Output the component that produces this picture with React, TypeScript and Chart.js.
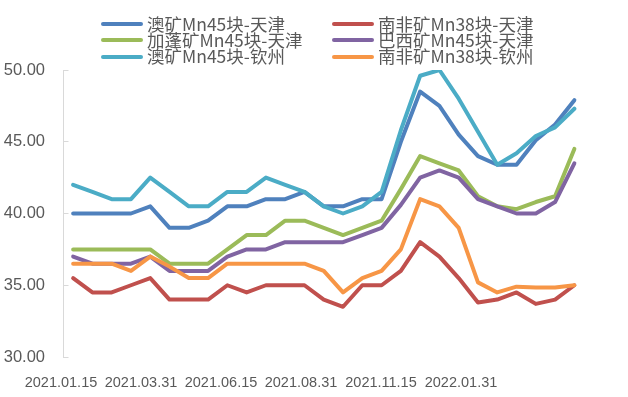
import React, { useEffect, useRef } from "react";
import { Chart, registerables } from "chart.js";

Chart.register(...registerables);

// Series names (legend order, row-wise)
const seriesNames = [
  "澳矿Mn45块-天津",
  "南非矿Mn38块-天津",
  "加蓬矿Mn45块-天津",
  "巴西矿Mn45块-天津",
  "澳矿Mn45块-钦州",
  "南非矿Mn38块-钦州",
];

const seriesColors = ["#4F81BD", "#C0504D", "#9BBB59", "#8064A2", "#4BACC6", "#F79646"];

// Values per observation (27 observations)
const ausTianjin = [40, 40, 40, 40, 40.5, 39, 39, 39.5, 40.5, 40.5, 41, 41, 41.5, 40.5, 40.5, 41, 41, 45, 48.5, 47.5, 45.5, 44, 43.4, 43.4, 45.1, 46.2, 47.9];
const saTianjin = [35.5, 34.5, 34.5, 35, 35.5, 34, 34, 34, 35, 34.5, 35, 35, 35, 34, 33.5, 35, 35, 36, 38, 37, 35.5, 33.8, 34, 34.5, 33.7, 34, 35];
const gabonTianjin = [37.5, 37.5, 37.5, 37.5, 37.5, 36.5, 36.5, 36.5, 37.5, 38.5, 38.5, 39.5, 39.5, 39, 38.5, 39, 39.5, 41.7, 44, 43.5, 43, 41.2, 40.5, 40.3, 40.8, 41.2, 44.5];
const brazilTianjin = [37, 36.5, 36.5, 36.5, 37, 36, 36, 36, 37, 37.5, 37.5, 38, 38, 38, 38, 38.5, 39, 40.6, 42.5, 43, 42.5, 41, 40.5, 40, 40, 40.8, 43.5];
const ausQinzhou = [42, 41.5, 41, 41, 42.5, 41.5, 40.5, 40.5, 41.5, 41.5, 42.5, 42, 41.5, 40.5, 40, 40.5, 41.5, 45.8, 49.6, 50, 48, 45.7, 43.4, 44.2, 45.4, 46, 47.3];
const saQinzhou = [36.5, 36.5, 36.5, 36, 37, 36.3, 35.5, 35.5, 36.5, 36.5, 36.5, 36.5, 36.5, 36, 34.5, 35.5, 36, 37.5, 41, 40.5, 39, 35.2, 34.5, 34.9, 34.85, 34.85, 35];

const seriesValues = [ausTianjin, saTianjin, gabonTianjin, brazilTianjin, ausQinzhou, saQinzhou];

// X axis tick labels and where they sit along the observation index
const xTickLabels = ["2021.01.15", "2021.03.31", "2021.06.15", "2021.08.31", "2021.11.15", "2022.01.31"];
const xTickIndex = [-0.63, 3.52, 7.67, 11.82, 15.97, 20.12];

const yMin = 30;
const yMax = 50;
const yStep = 5;

export default function App() {
  const canvasRef = useRef<HTMLCanvasElement | null>(null);

  useEffect(() => {
    const canvas = canvasRef.current;
    if (!canvas) return;
    const n = seriesValues[0].length;
    const chart = new Chart(canvas, {
      type: "line",
      data: {
        datasets: seriesValues.map((vals, si) => ({
          label: seriesNames[si],
          data: vals.map((v, i) => ({ x: i, y: v })),
          borderColor: seriesColors[si],
          backgroundColor: seriesColors[si],
          borderWidth: 4,
          pointRadius: 0,
          tension: 0,
          borderJoinStyle: "round" as const,
          borderCapStyle: "round" as const,
          order: seriesValues.length - si,
        })),
      },
      options: {
        responsive: false,
        animation: false,
        layout: { padding: { left: 0, right: 44, top: 70, bottom: 0 } },
        plugins: {
          legend: { display: false },
          tooltip: { enabled: false },
        },
        scales: {
          x: {
            type: "linear",
            min: -0.5,
            max: n - 0.5,
            grid: { display: false, drawTicks: false },
            border: { display: false },
            afterBuildTicks: (scale: any) => {
              scale.ticks = xTickIndex.map((v) => ({ value: v }));
            },
            afterFit: (scale: any) => {
              scale.height = 40;
            },
            ticks: {
              autoSkip: false,
              maxRotation: 0,
              minRotation: 0,
              padding: 17,
              color: "#595959",
              font: { family: "Liberation Sans", size: 14.5 },
              callback: (_v: any, i: number) => xTickLabels[i],
            },
          },
          y: {
            min: yMin,
            max: yMax,
            afterFit: (scale: any) => {
              scale.width = 63.5;
            },
            grid: {
              drawOnChartArea: false,
              color: "#D9D9D9",
              tickLength: -5,
              lineWidth: 1,
            },
            border: { color: "#D9D9D9", width: 1 },
            ticks: {
              stepSize: yStep,
              padding: 23.5,
              color: "#595959",
              font: { family: "Liberation Sans", size: 16.5 },
              callback: (v: any) => Number(v).toFixed(2),
            },
          },
        },
      },
    });
    return () => chart.destroy();
  }, []);

  return (
    <div style={{ position: "absolute", left: 0, top: 0, width: 628, height: 397, background: "#fff" }}>
      <canvas ref={canvasRef} width={628} height={397} style={{ display: "block" }} />
      <div
        style={{
          position: "absolute",
          left: 101,
          top: 15.8,
          display: "grid",
          gridTemplateColumns: "231px 231px",
          gridAutoRows: "16.3px",
        }}
      >
        {seriesNames.map((name, i) => (
          <div key={name} style={{ display: "flex", alignItems: "center", whiteSpace: "nowrap", height: 16.3 }}>
            <span
              style={{
                display: "inline-block",
                width: 42,
                height: 4,
                borderRadius: 2,
                background: seriesColors[i],
                marginRight: 4,
                flex: "none",
              }}
            />
            <span
              style={{
                fontFamily: '"Noto Sans CJK SC", sans-serif',
                fontSize: 17.5,
                lineHeight: "16.3px",
                color: "#595959",
              }}
            >
              {name}
            </span>
          </div>
        ))}
      </div>
    </div>
  );
}
